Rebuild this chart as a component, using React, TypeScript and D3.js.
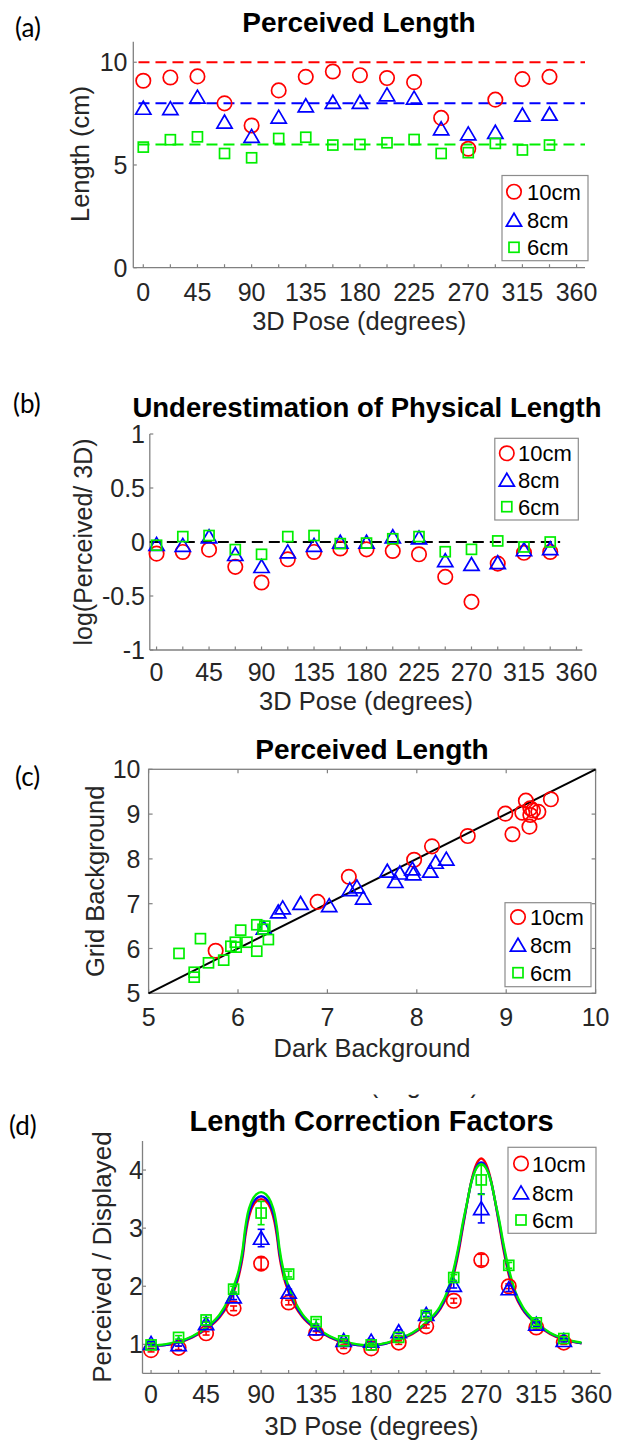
import React from "react";
import * as d3 from "d3";

// ---------- data ----------
const poses = [0, 22.5, 45, 67.5, 90, 112.5, 135, 157.5, 180, 202.5, 225, 247.5, 270, 292.5, 315, 337.5];
const poseTicks = [0, 22.5, 45, 67.5, 90, 112.5, 135, 157.5, 180, 202.5, 225, 247.5, 270, 292.5, 315, 337.5, 360];
const poseTickLabels = [0, 45, 90, 135, 180, 225, 270, 315, 360];
const seriesNames = ["10cm", "8cm", "6cm"];

// (a) perceived length
const aRed = [9.10, 9.26, 9.31, 8.00, 6.92, 8.63, 9.29, 9.55, 9.37, 9.23, 9.03, 7.29, 5.79, 8.18, 9.18, 9.29];
const aBlue = [7.77, 7.75, 8.31, 7.10, 6.40, 7.34, 7.89, 8.06, 8.06, 8.42, 8.26, 6.77, 6.52, 6.60, 7.44, 7.48];
const aGreen = [5.87, 6.23, 6.37, 5.56, 5.35, 6.29, 6.35, 5.97, 6.00, 6.08, 6.24, 5.56, 5.60, 6.05, 5.73, 5.97];
const aRefLines = [10, 8, 6];
const aYTicks = [0, 5, 10];

// (b) log(perceived / 3D)
const bRed = [-0.108, -0.092, -0.071, -0.23, -0.375, -0.16, -0.092, -0.06, -0.068, -0.083, -0.114, -0.323, -0.554, -0.20, -0.10, -0.092];
const bBlue = [-0.02, -0.03, 0.05, -0.114, -0.225, -0.09, -0.03, 0.0, 0.0, 0.05, 0.04, -0.17, -0.206, -0.19, -0.07, -0.06];
const bGreen = [-0.03, 0.05, 0.06, -0.07, -0.114, 0.05, 0.06, -0.015, -0.01, 0.03, 0.05, -0.09, -0.068, 0.01, -0.046, 0.0];
const bYTicks = [-1, -0.5, 0, 0.5, 1];

// (c) dark vs grid background
const cRedDark = [8.99, 9.07, 9.22, 9.18, 9.27, 9.27, 9.26, 9.36, 9.50, 8.57, 8.17, 7.97, 7.24, 6.89, 5.75, 9.30];
const cRedGrid = [9.01, 8.55, 9.30, 9.03, 9.13, 8.98, 8.72, 9.05, 9.33, 8.51, 8.28, 7.98, 7.60, 7.04, 5.95, 9.08];
const cBlueDark = [6.29, 6.45, 6.50, 6.70, 7.02, 7.25, 7.33, 7.40, 7.67, 7.76, 7.81, 7.95, 7.96, 8.15, 8.21, 8.33];
const cBlueGrid = [6.46, 6.82, 6.91, 7.01, 6.96, 7.32, 7.38, 7.13, 7.73, 7.50, 7.69, 7.78, 7.67, 7.73, 7.93, 8.00];
const cGreenDark = [5.34, 5.58, 5.51, 5.51, 5.67, 5.84, 5.92, 5.97, 5.98, 6.03, 6.10, 6.21, 6.21, 6.30, 6.34, 6.28];
const cGreenGrid = [5.89, 6.22, 5.47, 5.36, 5.68, 5.74, 6.05, 6.14, 6.03, 6.41, 6.14, 5.94, 6.53, 6.50, 6.20, 6.43];
const cTicks = [5, 6, 7, 8, 9, 10];

// (d) correction factors
const dRed = [0.90, 0.94, 1.19, 1.62, 2.39, 1.72, 1.19, 0.96, 0.93, 1.03, 1.31, 1.75, 2.45, 2.00, 1.29, 1.03];
const dBlue = [1.02, 1.00, 1.36, 1.82, 2.83, 1.90, 1.27, 1.07, 1.06, 1.22, 1.52, 2.02, 3.34, 1.96, 1.35, 1.07];
const dGreen = [0.99, 1.12, 1.42, 1.95, 3.26, 2.21, 1.39, 1.06, 0.99, 1.12, 1.50, 2.15, 3.83, 2.36, 1.37, 1.10];
const dRedErr = [0.03, 0.03, 0.03, 0.04, 0.10, 0.04, 0.03, 0.03, 0.03, 0.03, 0.03, 0.04, 0.10, 0.04, 0.03, 0.03];
const dBlueErr = [0.03, 0.03, 0.04, 0.05, 0.15, 0.05, 0.04, 0.03, 0.03, 0.03, 0.04, 0.05, 0.25, 0.05, 0.04, 0.03];
const dGreenErr = [0.03, 0.03, 0.04, 0.05, 0.20, 0.05, 0.04, 0.03, 0.03, 0.03, 0.04, 0.05, 0.25, 0.05, 0.04, 0.03];
const dYTicks = [1, 2, 3, 4];
const fitAngles = [0, 11.25, 22.5, 33.75, 45, 56.25, 62, 67.5, 72, 75, 77, 79, 82, 86, 90, 94, 98, 101, 103, 105, 108, 112.5, 118, 123.75, 135, 146.25, 157.5, 168.75, 180, 191.25, 202.5, 213.75, 225, 236.25, 242, 247.5, 252, 255, 258, 262, 266, 270, 274, 278, 282, 285, 288, 292.5, 298, 303.75, 315, 326.25, 337.5, 348.75, 352];
const fitRed = [0.98, 0.99, 1.03, 1.12, 1.26, 1.47, 1.65, 1.9, 2.2, 2.52, 2.85, 3.1, 3.33, 3.46, 3.5, 3.46, 3.33, 3.1, 2.85, 2.52, 2.2, 1.9, 1.65, 1.47, 1.26, 1.12, 1.03, 0.99, 0.98, 1.01, 1.08, 1.18, 1.35, 1.6, 1.83, 2.2, 2.65, 3.02, 3.38, 3.82, 4.1, 4.2, 4.1, 3.82, 3.38, 3.02, 2.65, 2.2, 1.83, 1.6, 1.35, 1.18, 1.08, 1.03, 1.02];
const fitBlue = [0.98, 0.99, 1.04, 1.13, 1.27, 1.49, 1.68, 1.94, 2.25, 2.58, 2.92, 3.17, 3.38, 3.51, 3.55, 3.51, 3.38, 3.17, 2.92, 2.58, 2.25, 1.94, 1.68, 1.49, 1.27, 1.13, 1.04, 0.99, 0.98, 1.01, 1.09, 1.19, 1.36, 1.62, 1.86, 2.25, 2.7, 3.06, 3.39, 3.8, 4.05, 4.13, 4.05, 3.8, 3.39, 3.06, 2.7, 2.25, 1.86, 1.62, 1.36, 1.19, 1.09, 1.03, 1.02];
const fitGreen = [0.98, 1.0, 1.05, 1.14, 1.29, 1.52, 1.72, 2.0, 2.3, 2.65, 3.0, 3.25, 3.45, 3.58, 3.62, 3.58, 3.45, 3.25, 3.0, 2.65, 2.3, 2.0, 1.72, 1.52, 1.29, 1.14, 1.05, 1.0, 0.98, 1.02, 1.1, 1.2, 1.38, 1.65, 1.9, 2.3, 2.75, 3.1, 3.4, 3.8, 4.03, 4.1, 4.03, 3.8, 3.4, 3.1, 2.75, 2.3, 1.9, 1.65, 1.38, 1.2, 1.1, 1.04, 1.03];

// ---------- style ----------
const FONT = "'Liberation Sans', Arial, Helvetica, sans-serif";
const LETTER_FONT = "Lato, 'Open Sans', sans-serif";
const AX = "#808080";
const TXT = "#262626";
const RED = "#ff0000";
const BLUE = "#0000ff";
const GREEN = "#00ee00";
const COLORS = [RED, BLUE, GREEN];
const KINDS = ["o", "^", "s"];

function Marker({ kind, x, y, color }: { kind: string; x: number; y: number; color: string }) {
  const sw = 1.7;
  if (kind === "o") return <circle cx={x} cy={y} r={7.2} fill="none" stroke={color} strokeWidth={sw} />;
  if (kind === "^")
    return (
      <polygon
        points={`${x},${y - 6.8} ${x + 7.6},${y + 6.2} ${x - 7.6},${y + 6.2}`}
        fill="none"
        stroke={color}
        strokeWidth={sw}
        strokeLinejoin="miter"
      />
    );
  return <rect x={x - 5} y={y - 5} width={10} height={10} fill="none" stroke={color} strokeWidth={sw} />;
}

function Legend({ x0, y0, x1, y1, rows, mx, tx }: { x0: number; y0: number; x1: number; y1: number; rows: number[]; mx: number; tx: number }) {
  return (
    <g>
      <rect x={x0} y={y0} width={x1 - x0} height={y1 - y0} fill="#fff" stroke="#8c8c8c" strokeWidth={1.2} />
      {rows.map((ry, i) => (
        <g key={i}>
          <Marker kind={KINDS[i]} x={mx} y={ry} color={COLORS[i]} />
          <text x={tx} y={ry + 8} fontSize={22} fill="#000">
            {seriesNames[i]}
          </text>
        </g>
      ))}
    </g>
  );
}

function PoseXAxis({ sx, y, x0, x1, labelY, titleY }: any) {
  return (
    <g>
      <line x1={x0} x2={x1} y1={y} y2={y} stroke={AX} strokeWidth={1.3} />
      {poseTicks.map((t) => (
        <line key={t} x1={sx(t)} x2={sx(t)} y1={y} y2={y - 3.5} stroke={AX} strokeWidth={1.2} />
      ))}
      {poseTickLabels.map((t) => (
        <text key={t} x={sx(t)} y={labelY} textAnchor="middle" fontSize={25} fill={TXT}>
          {t}
        </text>
      ))}
      <text x={(x0 + x1) / 2} y={titleY} textAnchor="middle" fontSize={25.5} fill={TXT}>
        3D Pose (degrees)
      </text>
    </g>
  );
}

function YAxis({ sy, x, yTop, yBot, ticks, labelX, fmt }: any) {
  return (
    <g>
      <line x1={x} x2={x} y1={yTop} y2={yBot} stroke={AX} strokeWidth={1.3} />
      {ticks.map((t: number) => (
        <g key={t}>
          <line x1={x} x2={x + 3.5} y1={sy(t)} y2={sy(t)} stroke={AX} strokeWidth={1.2} />
          <text x={labelX} y={sy(t) + 9} textAnchor="end" fontSize={25} fill={TXT}>
            {fmt ? fmt(t) : t}
          </text>
        </g>
      ))}
    </g>
  );
}

export default function App() {
  // (a)
  const sxA = d3.scaleLinear().domain([-8.3, 367]).range([133.3, 585]);
  const syA = d3.scaleLinear().domain([0, 11]).range([267.7, 41.7]);
  // (b)
  const sxB = d3.scaleLinear().domain([-5.8, 365]).range([149.8, 582.3]);
  const syB = d3.scaleLinear().domain([-1, 1]).range([650, 434]);
  // (c)
  const sxC = d3.scaleLinear().domain([5, 10]).range([148.6, 595.6]);
  const syC = d3.scaleLinear().domain([5, 10]).range([993.3, 769.3]);
  // (d)
  const sxD = d3.scaleLinear().domain([-7, 367.5]).range([142.5, 600.5]);
  const syD = d3.scaleLinear().domain([0.5, 4.5]).range([1373.4, 1141]);

  const aSeries = [aRed, aBlue, aGreen];
  const bSeries = [bRed, bBlue, bGreen];
  const cSeries = [
    [cRedDark, cRedGrid],
    [cBlueDark, cBlueGrid],
    [cGreenDark, cGreenGrid],
  ];
  const dSeries = [dRed, dBlue, dGreen];
  const dErr = [dRedErr, dBlueErr, dGreenErr];
  const fits = [fitRed, fitBlue, fitGreen];

  const fitLine = d3
    .line<number>()
    .x((_, i) => sxD(fitAngles[i]))
    .y((v) => syD(v))
    .curve(d3.curveMonotoneX);

  return (
    <svg
      width={629}
      height={1442}
      viewBox="0 0 629 1442"
      style={{ position: "absolute", left: 0, top: 0, background: "#fff" }}
      fontFamily={FONT}
    >
      <rect x={0} y={0} width={629} height={1442} fill="#fff" />
      <defs>
        <clipPath id="fragClip">
          <rect x={300} y={1094.5} width={220} height={6} />
        </clipPath>
      </defs>

      {/* ---------------- (a) ---------------- */}
      <text x={15} y={37} fontSize={26} fontFamily={LETTER_FONT} fill="#000">(a)</text>
      <text x={359} y={31.7} textAnchor="middle" fontSize={28} fontWeight="bold" fill="#000">
        Perceived Length
      </text>
      <YAxis sy={syA} x={133.3} yTop={41.7} yBot={267.7} ticks={aYTicks} labelX={127.5} />
      <PoseXAxis sx={sxA} y={267.7} x0={133.3} x1={585} labelY={300.7} titleY={330} />
      <text transform="translate(89.3,154) rotate(-90)" textAnchor="middle" fontSize={25.5} fill={TXT}>
        Length (cm)
      </text>
      {aRefLines.map((v, i) => (
        <line key={v} x1={sxA(-4)} x2={sxA(367)} y1={syA(v)} y2={syA(v)} stroke={COLORS[i]} strokeWidth={2} strokeDasharray="11 6" />
      ))}
      {aSeries.map((s, k) =>
        s.map((v, i) => <Marker key={`a${k}-${i}`} kind={KINDS[k]} x={sxA(poses[i])} y={syA(v)} color={COLORS[k]} />)
      )}
      <Legend x0={502} y0={175.5} x1={588} y1={260.7} rows={[191.7, 220, 247.3]} mx={514} tx={527} />

      {/* ---------------- (b) ---------------- */}
      <text x={13} y={413} fontSize={26} fontFamily={LETTER_FONT} fill="#000">(b)</text>
      <text x={367} y={416.5} textAnchor="middle" fontSize={27.5} fontWeight="bold" fill="#000">
        Underestimation of Physical Length
      </text>
      <YAxis sy={syB} x={149.8} yTop={434} yBot={650} ticks={bYTicks} labelX={145} />
      <PoseXAxis sx={sxB} y={650} x0={149.8} x1={582.3} labelY={680.7} titleY={710} />
      <text transform="translate(92,542) rotate(-90)" textAnchor="middle" fontSize={25} fill={TXT}>
        log(Perceived/ 3D)
      </text>
      <line x1={sxB(-5.8)} x2={sxB(346)} y1={syB(0)} y2={syB(0)} stroke="#000" strokeWidth={2} strokeDasharray="11 6" />
      {bSeries.map((s, k) =>
        s.map((v, i) => <Marker key={`b${k}-${i}`} kind={KINDS[k]} x={sxB(poses[i])} y={syB(v)} color={COLORS[k]} />)
      )}
      <Legend x0={494.8} y0={438.3} x1={578.3} y1={520} rows={[453.3, 480, 506.7]} mx={506.8} tx={518} />

      {/* ---------------- (c) ---------------- */}
      <text x={15} y={786} fontSize={26} fontFamily={LETTER_FONT} fill="#000">(c)</text>
      <text x={372} y={759} textAnchor="middle" fontSize={28} fontWeight="bold" fill="#000">
        Perceived Length
      </text>
      <rect x={148.6} y={769.3} width={447} height={224} fill="none" stroke={AX} strokeWidth={1.3} />
      {cTicks.map((t) => (
        <g key={`cx${t}`}>
          <line x1={sxC(t)} x2={sxC(t)} y1={993.3} y2={989.3} stroke={AX} strokeWidth={1.2} />
          <line x1={sxC(t)} x2={sxC(t)} y1={769.3} y2={773.3} stroke={AX} strokeWidth={1.2} />
          <line x1={148.6} x2={152.6} y1={syC(t)} y2={syC(t)} stroke={AX} strokeWidth={1.2} />
          <line x1={595.6} x2={591.6} y1={syC(t)} y2={syC(t)} stroke={AX} strokeWidth={1.2} />
          <text x={sxC(t)} y={1025.7} textAnchor="middle" fontSize={25} fill={TXT}>{t}</text>
          <text x={140.5} y={syC(t) + 9} textAnchor="end" fontSize={25} fill={TXT}>{t}</text>
        </g>
      ))}
      <text x={372} y={1056.5} textAnchor="middle" fontSize={25.5} fill={TXT}>Dark Background</text>
      <text transform="translate(104,881.3) rotate(-90)" textAnchor="middle" fontSize={25.5} fill={TXT}>
        Grid Background
      </text>
      <line x1={sxC(5)} y1={syC(5)} x2={sxC(10)} y2={syC(10)} stroke="#000" strokeWidth={2} />
      {cSeries.map(([xs, ys], k) =>
        xs.map((v, i) => <Marker key={`c${k}-${i}`} kind={KINDS[k]} x={sxC(v)} y={syC(ys[i])} color={COLORS[k]} />)
      )}
      <Legend x0={505} y0={902.7} x1={591} y1={986.7} rows={[917, 945, 972.7]} mx={518} tx={530} />

      {/* ---------------- (d) ---------------- */}
      <text x={372} y={1093} textAnchor="middle" fontSize={25.5} fill={TXT} clipPath="url(#fragClip)">
        3D Pose (degrees)
      </text>
      <text x={9} y={1135} fontSize={26} fontFamily={LETTER_FONT} fill="#000">(d)</text>
      <text x={371.5} y={1131} textAnchor="middle" fontSize={29} fontWeight="bold" fill="#000">
        Length Correction Factors
      </text>
      <YAxis sy={syD} x={142.5} yTop={1141} yBot={1373.4} ticks={dYTicks} labelX={143} />
      <PoseXAxis sx={sxD} y={1373.4} x0={142.5} x1={600.5} labelY={1403} titleY={1434.7} />
      <text transform="translate(111,1257) rotate(-90)" textAnchor="middle" fontSize={26} fill={TXT}>
        Perceived / Displayed
      </text>
      {fits.map((f, k) => (
        <path key={`fit${k}`} d={fitLine(f) || ""} fill="none" stroke={COLORS[k]} strokeWidth={2.4} />
      ))}
      {dSeries.map((s, k) =>
        s.map((v, i) => {
          const x = sxD(poses[i]);
          const e = dErr[k][i];
          return (
            <g key={`d${k}-${i}`}>
              <line x1={x} x2={x} y1={syD(v - e)} y2={syD(v + e)} stroke={COLORS[k]} strokeWidth={1.6} />
              <line x1={x - 3.5} x2={x + 3.5} y1={syD(v - e)} y2={syD(v - e)} stroke={COLORS[k]} strokeWidth={1.6} />
              <line x1={x - 3.5} x2={x + 3.5} y1={syD(v + e)} y2={syD(v + e)} stroke={COLORS[k]} strokeWidth={1.6} />
              <Marker kind={KINDS[k]} x={x} y={syD(v)} color={COLORS[k]} />
            </g>
          );
        })
      )}
      <Legend x0={508} y0={1147.3} x1={596} y1={1233.3} rows={[1163.5, 1192.7, 1220]} mx={521} tx={532} />
    </svg>
  );
}
